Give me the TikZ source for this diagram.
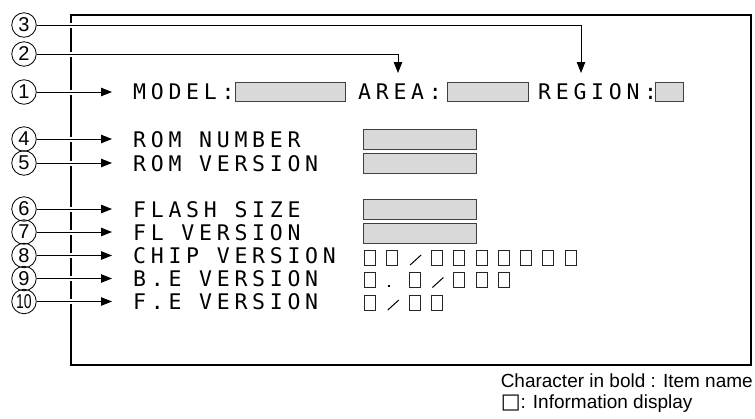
\documentclass[tikz,border=0pt]{standalone}
\usepackage{graphicx}
\usepackage{fontspec}
\setmainfont{Liberation Sans}
\newfontfamily\monofont[LetterSpace=22]{DejaVu Sans Mono}
\newfontfamily\symfont{DejaVu Sans}
\usetikzlibrary{arrows.meta}
\definecolor{boxgray}{HTML}{D9D9D9}
\definecolor{boxedge}{HTML}{404040}
\tikzset{
  callout/.style={circle, draw, line width=0.8pt, minimum size=24.5pt, inner sep=0pt, font=\fontsize{20}{20}\selectfont},
  arr/.style={line width=0.9pt, -{Triangle[length=11pt,width=8.5pt]}},
  itemlabel/.style={anchor=base west, inner sep=0pt, font=\monofont\fontsize{21.5}{24}\selectfont},
  field/.style={draw=boxedge, fill=boxgray, line width=0.9pt},
  cell/.style={draw=black!85, line width=1pt, fill=white},
  stroke/.style={line width=1pt},
  legendtext/.style={inner sep=0pt, font=\fontsize{19}{22}\selectfont},
  frameline/.style={line width=2pt},
  gapline/.style={white, line width=5pt}
}
\begin{document}
\begin{tikzpicture}[x=1pt,y=-1pt]
\useasboundingbox (0,0) rectangle (755,418);
% frame
\draw[frameline] (71,15) rectangle (751,365);
% white gaps where the callout lines cross the frame
\foreach \yy in {25,54,92,139,163,209,232,255.5,278.5,301.5}
  \draw[gapline] (66,\yy) -- (76,\yy);

% callout circles
\node[callout] (c3) at (24,25) {3};
\node[callout] (c2) at (24,54) {2};
\node[callout] (c1) at (24,92) {1};
\node[callout] (c4) at (24,139) {4};
\node[callout] (c5) at (24,163) {5};
\node[callout] (c6) at (24,209) {6};
\node[callout] (c7) at (24,232) {7};
\node[callout] (c8) at (24,255.5) {8};
\node[callout] (c9) at (24,278.5) {9};
\node[callout] (c10) at (24,301.5) {\scalebox{0.7}[1]{10}};

% arrow targets
\coordinate (t2) at (398,73);
\coordinate (t3) at (581,73);
\coordinate (t1) at (112,92);
\coordinate (t4) at (112,139);
\coordinate (t5) at (112,163);
\coordinate (t6) at (112,209);
\coordinate (t7) at (112,232);
\coordinate (t8) at (112,255.5);
\coordinate (t9) at (112,278.5);
\coordinate (t10) at (112,301.5);

\draw[arr] (c3) -| (t3);
\draw[arr] (c2) -| (t2);
\foreach \i in {1,4,5,6,7,8,9,10}
  \draw[arr] (c\i) -- (t\i);

% item names
\node[itemlabel] (model) at (133,99.5) {MODEL:};
\node[itemlabel] (area) at (358,99.5) {AREA:};
\node[itemlabel] (region) at (538,99.5) {REGION:};
\node[itemlabel] (romnum) at (133,147) {ROM NUMBER};
\node[itemlabel] (romver) at (133,171) {ROM VERSION};
\node[itemlabel] (flash) at (133,217.5) {FLASH SIZE};
\node[itemlabel] (flver) at (133,240.5) {FL VERSION};
\node[itemlabel] (chip) at (133,263.5) {CHIP VERSION};
\node[itemlabel] (bever) at (133,286.5) {B.E VERSION};
\node[itemlabel] (fever) at (133,309) {F.E VERSION};

% grey information fields
\draw[field] (235,82) rectangle (345,101);
\draw[field] (447,82) rectangle (528,101);
\draw[field] (655,82) rectangle (683,101);
\draw[field] (363,129) rectangle (476,149);
\draw[field] (363,153) rectangle (476,173);
\draw[field] (363,199) rectangle (476,219);
\draw[field] (363,223) rectangle (476,243);

% character cells
\foreach \k in {0,1,3,4,5,6,7,8,9}
  \draw[cell] ({364.5+22.3*\k},250) rectangle ++(11,15);
\draw[stroke] ({364.5+22.3*2+1},265) -- ++(11,-10);
\foreach \k in {0,2,4,5,6}
  \draw[cell] ({364.5+22.3*\k},272.5) rectangle ++(11,15);
\fill ({364.5+22.3+1},284.5) rectangle ++(2.5,2.5);
\draw[stroke] ({364.5+22.3*3+1},287.5) -- ++(11,-10);
\foreach \k in {0,2,3}
  \draw[cell] ({364.5+22.3*\k},295) rectangle ++(11,15);
\draw[stroke] ({364.5+22.3*1+1},310) -- ++(11,-10);

% legend
\node[legendtext, anchor=base east] (leg1) at (753,387) {Character in bold : Item name};
\path (leg1.base west) ++(0,21) node[legendtext, anchor=base west] (leg2) {{\symfont\fontsize{21}{21}\selectfont □}: Information display};
\end{tikzpicture}
\end{document}
